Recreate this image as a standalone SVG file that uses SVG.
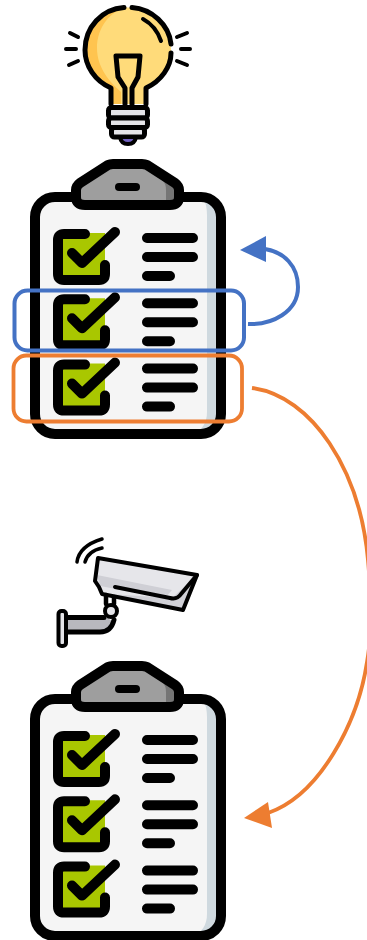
<svg xmlns="http://www.w3.org/2000/svg" width="367" height="940" viewBox="0 0 367 940">
<style>
.k{fill:none;stroke:#000;stroke-linecap:round;stroke-linejoin:round}
.k10{stroke-width:10}
.k5{stroke-width:5}
.k4{stroke-width:4}
.blue{fill:none;stroke:#4472C4;stroke-width:4}
.org{fill:none;stroke:#ED7D31;stroke-width:3.8}
</style>
<defs>
<g id="row">
<path d="M62 233H105V280H62Z" fill="#A9C700"/>
<path class="k k10" d="M85 234H64Q58 234 58 240V274Q58 280 64 280H99Q105 280 105 274V265"/>
<path class="k k10" d="M72 253L82 263L115 232"/>
<path class="k k10" d="M147 238H193M147 257H193M147 276H170"/>
</g>
<g id="board">
<rect x="35" y="197" width="186" height="237" rx="20" fill="#F5F5F5"/>
<path d="M203 197Q207 205 207 215V412Q207 428 193 434H203Q221 434 221 416V215Q221 197 203 197Z" fill="#CFD9DF"/>
<rect x="35" y="197" width="186" height="237" rx="20" class="k k10"/>
<path d="M85 205H170Q179 205 179 197V190Q179 186 175 183L147 165Q145 164 142 164H113Q110 164 108 165L80 183Q76 186 76 190V197Q76 205 85 205Z" fill="#9E9E9E"/>
<path d="M140 164L163 181Q166 184 166 190V205H170Q179 205 179 197V190Q179 186 175 183L147 165Z" fill="#757575"/>
<path class="k k10" d="M85 205H170Q179 205 179 197V190Q179 186 175 183L147 165Q145 164 142 164H113Q110 164 108 165L80 183Q76 186 76 190V197Q76 205 85 205Z"/>
<path class="k" stroke-width="8" d="M119 187H136"/>
<use href="#row"/>
<use href="#row" y="65.3"/>
<use href="#row" y="130.6"/>
</g>
</defs>
<rect width="367" height="940" fill="#fff"/>
<g id="bulb">
<path d="M111 104V88C95 81 85 66 85 50C85 26 104 7.500 128 7.500C152 7.500 171 26 171 50C171 66 161 81 146 88V104Z" fill="#FFDB7A"/>
<path d="M111 104V88C95 81 85 66 85 50C85 26 104 7.500 128 7.500C110 10 97 28 97 48C97 68 110 82 121 92V104Z" fill="#FFC44F"/>
<path class="k k5" d="M124 7.500C102 9 85 27 85 50C85 66 95 81 111 88V104M132 7.500C152 9 169 25 171 44M171 53C171 67 161 81 146 88V104"/>
<path class="k k4" d="M143 19Q156 26 161 41"/>
<path class="k k5" d="M116 56H140M116 56L118 77L125 88V104M140 56L138 77L132 88V104"/>
<rect x="108.500" y="107.500" width="39" height="10.500" rx="3" class="k k5" style="fill:#E4E4E8"/>
<rect x="108.500" y="118" width="39" height="9.500" rx="3" class="k k5" style="fill:#E4E4E8"/>
<rect x="111.500" y="127.500" width="33" height="9.500" rx="3" class="k k5" style="fill:#E4E4E8"/>
<path d="M120 137H136Q135 144 128 144Q121 144 120 137Z" class="k k4" style="fill:#6F5FBF"/>
<path class="k k4" d="M70 33L78 37M66 49H76M69 65L78 61M187 33L177 37M190 49H181M187 65L177 61"/>
</g>
<g id="clipboard-top"><use href="#board"/></g>
<g id="camera">
<path class="k" stroke-width="3.500" d="M77 562Q79 546 102 539M85 562Q88 551 102 548"/>
<path d="M68 618H108L113 622Q110 632 103 632H68Z" fill="#B8B8BE"/>
<path class="k k5" d="M68 617.500H104M68 632H100Q111 632 114 620"/>
<rect x="58.500" y="611" width="7.500" height="35" rx="3" class="k k4" style="fill:#E4E4E8"/>
<path d="M101 594L183 610L197 575L98 558L95 580L98 588Z" style="fill:#E6E6EA"/>
<path d="M97 575L172 590L165 598L100 586Z" fill="#CFCFD5"/>
<path d="M172 598L197 575L183 610L108 594Z" fill="#D0D0D6"/>
<path class="k" stroke-width="4.500" d="M106 595V604M114 597V604"/>
<circle cx="111" cy="611" r="6" class="k k4" style="fill:#E4E4E8"/>
<path class="k k4" d="M98 558L197 575L183 610L102 594L99 587L95 581Z"/>
<path class="k k4" d="M115 587L170 598Q177 600 181 594L197 575"/>
</g>
<g id="clipboard-bottom"><use href="#board" y="502"/></g>
<g id="blue-box"><rect x="14.500" y="290.500" width="229.500" height="60" rx="13" class="blue"/></g>
<g id="orange-box"><rect x="13.500" y="355.500" width="228.500" height="66" rx="13" class="org"/></g>
<g id="connectors">
<path class="blue" d="M248 324C272 325 298 312 298 287C298 266 284 252 265 249"/>
<path d="M240 250L266 236L266 262Z" fill="#4472C4"/>
<path class="org" d="M252 388C312 396 360 470 368 560C372 605 371 640 367 662C358 722 320 795 268 813"/>
<path d="M244 818L268 802L272 828Z" fill="#ED7D31"/>
</g>
</svg>
